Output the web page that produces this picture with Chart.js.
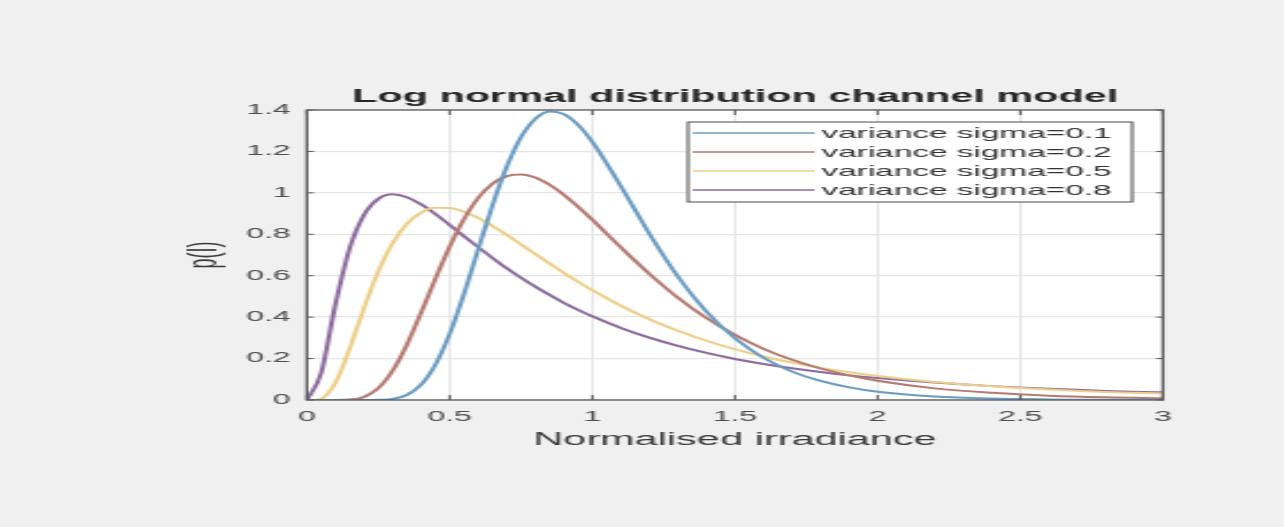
<!DOCTYPE html>
<html>
<head>
<meta charset="utf-8">
<title>Log normal distribution channel model</title>
<script src="https://cdn.jsdelivr.net/npm/chart.js@4.4.1/dist/chart.umd.min.js"></script>
<style>
  html, body { margin: 0; padding: 0; background: #f0f0f0; overflow: hidden; }
  /* the reference figure is stretched sideways, so the canvas is too */
  #wrap {
    position: absolute; left: 0; top: 0;
    width: 558px; height: 527px;
    transform: scaleX(2.301); transform-origin: 0 0;
  }
</style>
</head>
<body>
<div id="wrap"><canvas id="chart"></canvas></div>
<script>
// normalised irradiance samples
const irradiance = [0, 0.05, 0.1, 0.15, 0.2, 0.25, 0.3, 0.35, 0.4, 0.45, 0.5, 0.55, 0.6, 0.65, 0.7, 0.75, 0.8, 0.85, 0.9, 0.95, 1, 1.1, 1.2, 1.3, 1.4, 1.5, 1.6, 1.7, 1.8, 1.9, 2, 2.2, 2.4, 2.6, 2.8, 3];

// p(I) for each variance
const sigma01 = [0, 0, 0, 0, 0, 0.001, 0.005, 0.024, 0.074, 0.170, 0.319, 0.511, 0.727, 0.940, 1.126, 1.268, 1.357, 1.393, 1.380, 1.328, 1.246, 1.032, 0.803, 0.596, 0.427, 0.298, 0.204, 0.137, 0.092, 0.061, 0.040, 0.017, 0.007, 0.003, 0.001, 0.001];
const sigma02 = [0, 0, 0, 0.002, 0.015, 0.057, 0.141, 0.267, 0.422, 0.585, 0.740, 0.873, 0.975, 1.044, 1.081, 1.089, 1.074, 1.039, 0.991, 0.933, 0.870, 0.737, 0.609, 0.494, 0.396, 0.314, 0.247, 0.194, 0.152, 0.119, 0.093, 0.056, 0.035, 0.021, 0.013, 0.008];
const sigma05 = [0, 0.006, 0.084, 0.250, 0.445, 0.621, 0.757, 0.850, 0.905, 0.928, 0.927, 0.909, 0.879, 0.840, 0.797, 0.751, 0.705, 0.659, 0.614, 0.571, 0.530, 0.455, 0.390, 0.334, 0.286, 0.245, 0.210, 0.180, 0.155, 0.134, 0.116, 0.087, 0.066, 0.051, 0.039, 0.031];
const sigma08 = [0, 0.132, 0.464, 0.733, 0.894, 0.971, 0.993, 0.979, 0.944, 0.898, 0.845, 0.791, 0.738, 0.686, 0.636, 0.590, 0.547, 0.507, 0.469, 0.435, 0.404, 0.348, 0.301, 0.261, 0.227, 0.198, 0.174, 0.153, 0.135, 0.119, 0.106, 0.084, 0.067, 0.054, 0.044, 0.037];

const seriesLabels = ["variance sigma=0.1", "variance sigma=0.2", "variance sigma=0.5", "variance sigma=0.8"];
const seriesColors = ["#6b9cc2", "#b57a70", "#eecf8a", "#8d6c9d"];

const xTickStep = 0.5;
const yTickStep = 0.2;

const FONT = '"Liberation Sans", Arial, Helvetica, sans-serif';

function toPoints(ys) {
  return irradiance.map((x, i) => ({ x: x, y: ys[i] }));
}

// matlab style tick text: 1 not 1.0
function shortNum(v) {
  return String(Number(v.toFixed(1)));
}

const allSeries = [sigma01, sigma02, sigma05, sigma08];

/* ── frame, titles and legend drawn like a MATLAB figure ── */
const matlabFrame = {
  id: "matlabFrame",
  beforeDraw(chart) {
    const { ctx, chartArea: a } = chart;
    ctx.save();
    ctx.fillStyle = "#f0f0f0";
    ctx.fillRect(0, 0, chart.width, chart.height);
    ctx.fillStyle = "#ffffff";
    ctx.fillRect(a.left, a.top, a.right - a.left, a.bottom - a.top);
    ctx.restore();
  },
  afterDraw(chart) {
    const { ctx, chartArea: a } = chart;
    const xs = chart.scales.x;
    const ys = chart.scales.y;
    ctx.save();

    // box
    ctx.strokeStyle = "#5a5a5a";
    ctx.lineWidth = 1.3;
    ctx.strokeRect(a.left, a.top, a.right - a.left, a.bottom - a.top);

    // inward ticks
    ctx.lineWidth = 1;
    xs.ticks.forEach((t) => {
      const px = xs.getPixelForValue(t.value);
      ctx.beginPath();
      ctx.moveTo(px, a.bottom); ctx.lineTo(px, a.bottom - 5);
      ctx.moveTo(px, a.top); ctx.lineTo(px, a.top + 5);
      ctx.stroke();
    });
    ys.ticks.forEach((t) => {
      const py = ys.getPixelForValue(t.value);
      ctx.beginPath();
      ctx.moveTo(a.left, py); ctx.lineTo(a.left + 3, py);
      ctx.moveTo(a.right, py); ctx.lineTo(a.right - 3, py);
      ctx.stroke();
    });

    const cx = (a.left + a.right) / 2;

    // title
    ctx.fillStyle = "#262626";
    ctx.font = "bold 18px " + FONT;
    ctx.textAlign = "center";
    ctx.textBaseline = "middle";
    ctx.fillText("Log normal distribution channel model", cx, 97);

    // axis labels
    ctx.fillStyle = "#3a3a3a";
    ctx.font = "18px " + FONT;
    ctx.fillText("Normalised irradiance", cx, 440);
    ctx.save();
    ctx.translate(89, (a.top + a.bottom) / 2);
    ctx.rotate(-Math.PI / 2);
    ctx.fillText("p(I)", 0, 0);
    ctx.restore();

    // legend
    const lx = 299, ly = 122, lw = 193, lh = 80;
    ctx.fillStyle = "#ffffff";
    ctx.fillRect(lx, ly, lw, lh);
    ctx.strokeStyle = "#4a4a4a";
    ctx.lineWidth = 1;
    ctx.strokeRect(lx, ly, lw, lh);
    ctx.font = "14.5px " + FONT;
    ctx.textAlign = "left";
    chart.data.datasets.forEach((ds, i) => {
      const rowY = 133 + i * 19;
      ctx.strokeStyle = ds.borderColor;
      ctx.lineWidth = 1.5;
      ctx.beginPath();
      ctx.moveTo(lx + 2, rowY);
      ctx.lineTo(lx + 55, rowY);
      ctx.stroke();
      ctx.fillStyle = "#333333";
      ctx.fillText(ds.label, lx + 58, rowY + 1);
    });

    ctx.restore();
  },
};

new Chart(document.getElementById("chart"), {
  type: "line",
  data: {
    datasets: allSeries.map((s, i) => ({
      label: seriesLabels[i],
      data: toPoints(s),
      borderColor: seriesColors[i],
      borderWidth: 2,
      pointRadius: 0,
      cubicInterpolationMode: "monotone",
      fill: false,
    })),
  },
  options: {
    responsive: true,
    maintainAspectRatio: false,
    animation: false,
    devicePixelRatio: 1,
    layout: { padding: { top: 110, right: 52.6, left: 0, bottom: 0 } },
    plugins: {
      legend: { display: false },
      title: { display: false },
      tooltip: { enabled: false },
    },
    scales: {
      x: {
        type: "linear",
        min: 0,
        max: 3,
        afterFit: (scale) => { scale.height = 127; },
        grid: { color: "#e6e6e6", lineWidth: 1, drawTicks: false },
        border: { display: false },
        ticks: {
          stepSize: xTickStep,
          autoSkip: false,
          maxRotation: 0,
          padding: 9,
          color: "#4d4d4d",
          font: { family: FONT, size: 14 },
          callback: (v) => shortNum(v),
        },
      },
      y: {
        min: 0,
        max: 1.4,
        afterFit: (scale) => { scale.width = 133.4; },
        grid: { color: "#e6e6e6", lineWidth: 1.3, drawTicks: false },
        border: { display: false },
        ticks: {
          stepSize: yTickStep,
          padding: 7,
          color: "#4d4d4d",
          font: { family: FONT, size: 14 },
          callback: (v) => shortNum(v),
        },
      },
    },
  },
  plugins: [matlabFrame],
});
</script>
</body>
</html>
